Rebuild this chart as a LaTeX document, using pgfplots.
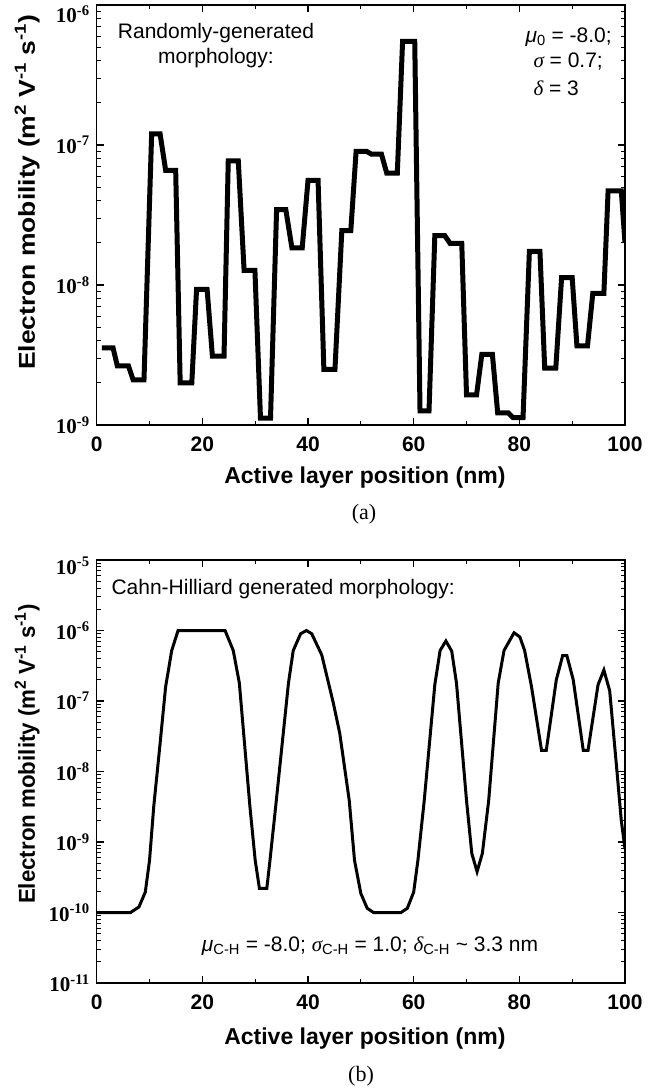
\documentclass[border=0pt]{standalone}
\usepackage{fontspec}
\setmainfont{Liberation Sans}
\newfontfamily\tnr{Liberation Serif}
\usepackage{graphicx}
\usepackage{pgfplots}
\pgfplotsset{compat=1.18}
\newcommand{\fs}[1]{\fontsize{#1bp}{#1bp}\selectfont}
\pgfplotsset{
  mystyle/.style={
    scale only axis, width=528.3bp,
    xmin=0, xmax=100,
    /pgf/number format/assume math mode=true,
    xtick={0,20,...,100}, minor xtick={10,30,50,70,90},
    tick align=inside, axis line style={line width=1.4bp},
    major tick length=7bp, minor tick length=4bp,
    every tick/.style={black, line width=1.1bp},
    xticklabel style={font=\fs{21}\bfseries, yshift=-8bp},
    yticklabel style={font=\fs{21}\tnr\bfseries, xshift=-3.5bp},
    xlabel={Active layer position (nm)},
    xlabel style={font=\fs{23}\bfseries, anchor=center, xshift=4bp},
    ylabel style={font=\fs{23}\bfseries, anchor=base},
  }
}
\begin{document}
\begin{tikzpicture}
\path[use as bounding box] (0bp,0bp) rectangle (663bp,-1090bp);
\begin{axis}[ymode=log, mystyle, at={(96.7bp,-5bp)}, anchor=north west, height=420bp,
  ymin=1e-9, ymax=1e-6,
  ytick={1e-9,1e-8,1e-7,1e-6},
  yticklabels={10\textsuperscript{-9},10\textsuperscript{-8},10\textsuperscript{-7},{\raisebox{-9bp}[\height][\depth]{10\textsuperscript{-6}}}},
  minor ytick={2e-9,3e-9,4e-9,5e-9,6e-9,7e-9,8e-9,9e-9,2e-8,3e-8,4e-8,5e-8,6e-8,7e-8,8e-8,9e-8,2e-7,3e-7,4e-7,5e-7,6e-7,7e-7,8e-7,9e-7},
  xlabel style={at={(axis description cs:0.5,-0.124)}},
  ylabel={\scalebox{1.15}[1]{Electron mobility (m\textsuperscript{2} V\textsuperscript{-1} s\textsuperscript{-1})}},
  ylabel style={at={(axis description cs:-0.1168,0.554)}},
]
\addplot[black, line width=5bp, line join=miter] coordinates {
(1,3.55e-9) (3.1,3.55e-9) (3.9,2.65e-9) (6.0,2.65e-9) (6.9,2.1e-9) (8.95,2.1e-9)
(10.4,1.2e-7) (12,1.2e-7) (13.05,6.6e-8) (14.95,6.6e-8) (15.8,2.0e-9) (18,2.0e-9)
(18.9,9.3e-9) (20.9,9.3e-9) (21.9,3.1e-9) (24.1,3.1e-9) (24.9,7.7e-8) (26.8,7.7e-8)
(27.9,1.27e-8) (29.95,1.27e-8) (31,1.12e-9) (32.9,1.12e-9) (34.05,3.45e-8) (35.8,3.45e-8)
(36.95,1.84e-8) (38.9,1.84e-8) (40,5.6e-8) (41.9,5.6e-8) (43,2.5e-9) (45.1,2.5e-9)
(46.4,2.45e-8) (48.1,2.45e-8) (49.1,9e-8) (51.1,9e-8) (52,8.6e-8) (53.9,8.6e-8)
(54.9,6.3e-8) (56.9,6.3e-8) (57.9,5.5e-7) (60.2,5.5e-7) (61.2,1.26e-9) (62.9,1.26e-9)
(64,2.25e-8) (65.9,2.25e-8) (66.9,1.98e-8) (69.1,1.98e-8) (70,1.64e-9) (71.9,1.64e-9)
(72.9,3.2e-9) (74.9,3.2e-9) (75.9,1.22e-9) (77.9,1.22e-9) (78.8,1.13e-9) (80.7,1.13e-9)
(81.9,1.74e-8) (83.9,1.74e-8) (84.8,2.55e-9) (86.9,2.55e-9) (88,1.13e-8) (90,1.13e-8)
(90.9,3.68e-9) (92.9,3.68e-9) (93.9,8.7e-9) (96,8.7e-9) (96.8,4.7e-8) (99.3,4.7e-8) (100,2e-8)
};
\end{axis}
\begin{axis}[ymode=log, mystyle, at={(96.7bp,-560bp)}, anchor=north west, height=423bp,
  ymin=1e-11, ymax=1e-5,
  ytick={1e-11,1e-10,1e-9,1e-8,1e-7,1e-6,1e-5},
  yticklabels={10\textsuperscript{-11},10\textsuperscript{-10},10\textsuperscript{-9},10\textsuperscript{-8},10\textsuperscript{-7},10\textsuperscript{-6},{\raisebox{-6bp}[\height][\depth]{10\textsuperscript{-5}}}},
  minor ytick={2e-11,3e-11,4e-11,5e-11,6e-11,7e-11,8e-11,9e-11,2e-10,3e-10,4e-10,5e-10,6e-10,7e-10,8e-10,9e-10,2e-9,3e-9,4e-9,5e-9,6e-9,7e-9,8e-9,9e-9,2e-8,3e-8,4e-8,5e-8,6e-8,7e-8,8e-8,9e-8,2e-7,3e-7,4e-7,5e-7,6e-7,7e-7,8e-7,9e-7,2e-6,3e-6,4e-6,5e-6,6e-6,7e-6,8e-6,9e-6},
  xlabel style={at={(axis description cs:0.5,-0.132)}},
  ylabel={\scalebox{0.97}[1]{Electron mobility (m\textsuperscript{2} V\textsuperscript{-1} s\textsuperscript{-1})}},
  ylabel style={at={(axis description cs:-0.1168,0.541)}},
]
\addplot[black, line width=3bp] coordinates {
(0,1e-10) (6.4,1e-10) (8.0,1.2e-10) (9.2,1.95e-10) (10.0,5.5e-10) (10.8,3.2e-9) (12.0,2.5e-8)
(13.05,1.6e-7) (14.2,5.2e-7) (15.4,1e-6) (24.3,1e-6) (25.85,5.2e-7) (27.0,1.8e-7) (29.0,3.2e-9)
(30.0,5.5e-10) (30.8,2.2e-10) (32.2,2.2e-10) (32.8,5.5e-10) (34.0,3.9e-9) (36.3,1.8e-7)
(37.2,5.2e-7) (38.6,9e-7) (39.7,1e-6) (40.7,9e-7) (42.6,4.5e-7) (44.8,9.3e-8) (46.0,3.5e-8)
(47.8,3.9e-9) (48.8,5.5e-10) (50.0,1.86e-10) (51.2,1.15e-10) (52.4,1e-10) (57.6,1e-10)
(58.8,1.15e-10) (60.0,1.95e-10) (60.8,5.5e-10) (62.0,3.9e-9) (64.0,1.7e-7) (65.0,5.2e-7)
(66.1,7.1e-7) (67.2,5.1e-7) (68.1,1.8e-7) (70.0,3.9e-9) (71.0,6.9e-10) (72.0,3.8e-10)
(73.0,6.9e-10) (74.2,3.9e-9) (76.0,1.8e-7) (77.1,5.2e-7) (79.0,9.3e-7) (80.1,8.1e-7)
(81.0,5.2e-7) (82.3,1.6e-7) (84.2,2e-8) (85.1,2e-8) (87.0,2e-7) (88.2,4.4e-7) (89.0,4.4e-7)
(90.2,2e-7) (92.1,2e-8) (93.0,2e-8) (94.9,1.7e-7) (96.0,2.75e-7) (97.1,1.4e-7) (98.4,1.17e-8)
(99.3,2e-9) (100,8e-10)
};
\end{axis}
% annotations
\node[font=\fs{21}, align=center] at (216bp,-46bp) {Randomly-generated\\[4bp]morphology:};
\node[font=\fs{21}, anchor=west] at (522bp,-37bp) {\textit{μ}\textsubscript{0} = -8.0;};
\node[font=\fs{21}, anchor=west] at (530bp,-62bp) {{\tnr\itshape σ} = 0.7;};
\node[font=\fs{21}, anchor=west] at (530bp,-88bp) {{\tnr\itshape δ} = 3};
\node[font=\fs{22}\tnr] at (364bp,-514bp) {(a)};
\node[font=\fs{21}, anchor=west] at (108bp,-589bp) {Cahn-Hilliard generated morphology:};
\node[font=\fs{21}] at (370bp,-946bp) {\textit{μ}\textsubscript{C-H} = -8.0; {\tnr\itshape σ}\textsubscript{C-H} = 1.0; {\tnr\itshape δ}\textsubscript{C-H} \textasciitilde{} 3.3 nm};
\node[font=\fs{22}\tnr] at (361bp,-1076bp) {(b)};
\end{tikzpicture}
\end{document}
